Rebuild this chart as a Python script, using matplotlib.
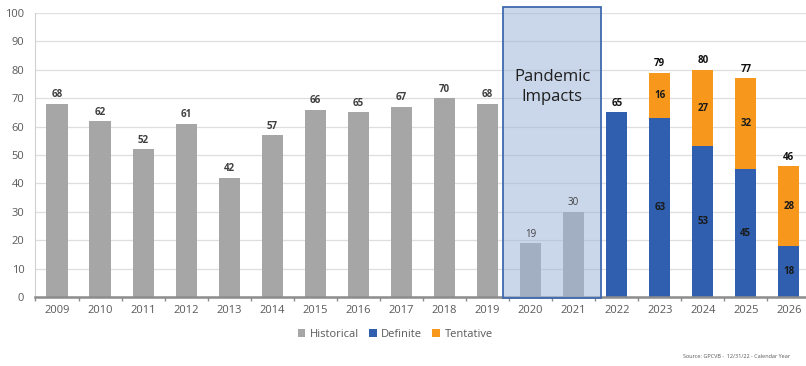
import matplotlib.pyplot as plt
import numpy as np
from matplotlib.patches import Rectangle

years = [str(y) for y in range(2009, 2027)]
historical = [68, 62, 52, 61, 42, 57, 66, 65, 67, 70, 68, 19, 30, 0, 0, 0, 0, 0]
definite = [0, 0, 0, 0, 0, 0, 0, 0, 0, 0, 0, 0, 0, 65, 63, 53, 45, 18]
tentative = [0, 0, 0, 0, 0, 0, 0, 0, 0, 0, 0, 0, 0, 0, 16, 27, 32, 28]
pandemic_years = ["2020", "2021"]

GRAY = "#a6a6a6"
BLUE = "#2f5fae"
ORANGE = "#f7981d"
TXT = "#595959"

plt.rcParams["font.family"] = ["Open Sans", "DejaVu Sans"]

fig = plt.figure(figsize=(8.06, 3.66), dpi=100)
ax = fig.add_axes([0.044, 0.1885, 0.9615, 0.776])

x = np.arange(len(years))
hist = np.array(historical)
dfn = np.array(definite)
tnt = np.array(tentative)
w = 0.49

ax.bar(x, hist, w, color=GRAY, label="Historical", zorder=2)
ax.bar(x, dfn, w, color=BLUE, label="Definite", zorder=2)
ax.bar(x, tnt, w, bottom=dfn, color=ORANGE, label="Tentative", zorder=2)

# value labels
for i in range(len(years)):
    if hist[i]:
        ax.text(x[i], hist[i] + 1.2, str(hist[i]), ha="center", va="bottom",
                fontsize=7, color="#404040",
                fontweight="normal" if years[i] in pandemic_years else "bold", zorder=5)
    total = dfn[i] + tnt[i]
    if dfn[i]:
        if tnt[i]:
            ax.text(x[i], dfn[i] / 2, str(dfn[i]), ha="center", va="center",
                    fontsize=7, color="#1a1a1a", fontweight="bold", zorder=5)
            ax.text(x[i], dfn[i] + tnt[i] / 2, str(tnt[i]), ha="center", va="center",
                    fontsize=7, color="#1a1a1a", fontweight="bold", zorder=5)
        ax.text(x[i], total + 1.2, str(total), ha="center", va="bottom",
                fontsize=7, color="#111111", fontweight="bold", zorder=5)

# pandemic highlight box
i0 = years.index(pandemic_years[0])
i1 = years.index(pandemic_years[1])
ax.add_patch(Rectangle((i0 - 0.64, -0.5), (i1 - i0) + 1.27, 102.5,
                       facecolor="#9fb6da", alpha=0.55, edgecolor="none",
                       zorder=3, clip_on=False))
ax.add_patch(Rectangle((i0 - 0.64, -0.5), (i1 - i0) + 1.27, 102.5,
                       facecolor="none", edgecolor="#3f69ad", lw=1.3,
                       zorder=4, clip_on=False))
ax.text((i0 + i1) / 2, 74, "Pandemic\nImpacts", ha="center", va="center",
        fontsize=12, color="#1f1f1f", linespacing=1.35, zorder=5)

ax.set_xlim(-0.5, len(years) - 0.5)
ax.set_ylim(0, 100)
ax.set_yticks(range(0, 101, 10))
ax.set_xticks(x)
ax.set_xticklabels(years)
ax.set_xticks(np.arange(-0.5, len(years), 1), minor=True)
ax.tick_params(axis="x", which="major", length=0, pad=6, labelsize=8, labelcolor=TXT)
ax.tick_params(axis="x", which="minor", length=3, color="#8c8c8c", width=1)
ax.tick_params(axis="y", length=0, pad=8, labelsize=8, labelcolor=TXT)
ax.grid(axis="y", color="#dedede", lw=0.9, zorder=0)
for s in ["top", "right"]:
    ax.spines[s].set_visible(False)
ax.spines["left"].set_color("#d0d0d0")
ax.spines["bottom"].set_color("#8c8c8c")
ax.spines["bottom"].set_linewidth(1.8)

ax.legend(loc="upper center", bbox_to_anchor=(0.464, -0.078), ncol=3, frameon=False,
          fontsize=8, handlelength=0.7, handleheight=0.7, handletextpad=0.4,
          columnspacing=0.9, labelcolor=TXT)

fig.text(0.98, 0.025, "Source: GPCVB -  12/31/22 - Calendar Year", ha="right",
         va="center", fontsize=4, color="#555555")

fig.savefig("out.png", dpi=100)
